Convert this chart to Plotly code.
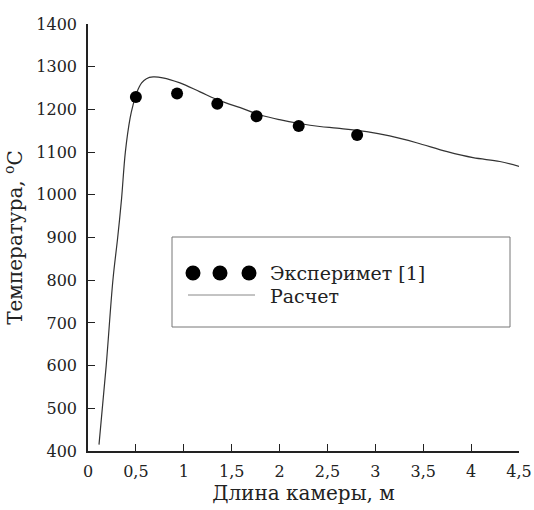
import plotly.graph_objects as go

# Experimental data
exp_x = [0.5, 0.93, 1.35, 1.76, 2.2, 2.81]
exp_y = [1229, 1237, 1213, 1184, 1161, 1140]

# Calculated curve
calc_x = [0.115, 0.19, 0.26, 0.31, 0.35, 0.39, 0.44, 0.47, 0.51, 0.56, 0.61, 0.68, 0.78,
          0.96, 1.17, 1.38, 1.59, 1.8, 2.0, 2.21, 2.42, 2.6, 2.91, 3.15, 3.43, 3.75,
          4.02, 4.3, 4.51]
calc_y = [415, 600, 800, 900, 990, 1100, 1180, 1210, 1240, 1262, 1272, 1276, 1274,
          1262, 1241, 1220, 1204, 1187, 1176, 1167, 1160, 1156, 1148, 1138, 1122, 1101,
          1087, 1078, 1066]

x_ticks = [0, 0.5, 1, 1.5, 2, 2.5, 3, 3.5, 4, 4.5]
x_ticktext = ["0", "0,5", "1", "1,5", "2", "2,5", "3", "3,5", "4", "4,5"]
y_ticks = [400, 500, 600, 700, 800, 900, 1000, 1100, 1200, 1300, 1400]

legend_labels = ["Эксперимет [1]", "Расчет"]

FONT = "DejaVu Serif"

fig = go.Figure()
fig.add_trace(go.Scatter(x=calc_x, y=calc_y, mode="lines",
                         line=dict(color="#333333", width=1.2, shape="spline"),
                         showlegend=False))
fig.add_trace(go.Scatter(x=exp_x, y=exp_y, mode="markers",
                         marker=dict(color="black", size=12),
                         showlegend=False))

W, H = 431, 427
def px(x):
    return (x - 88) / W
def py(y):
    return (451 - y) / H

shapes = [
    dict(type="rect", xref="paper", yref="paper",
         x0=px(172), x1=px(510), y0=py(327), y1=py(237),
         line=dict(color="#777777", width=1), fillcolor="white", layer="below"),
    dict(type="line", xref="paper", yref="paper",
         x0=px(188), x1=px(255), y0=py(295), y1=py(295),
         line=dict(color="#888888", width=1)),
]
for cx in [193, 220, 249]:
    shapes.append(dict(type="circle", xref="paper", yref="paper",
                       xsizemode="pixel", ysizemode="pixel",
                       xanchor=px(cx), yanchor=py(273),
                       x0=-7.5, x1=7.5, y0=-7.5, y1=7.5,
                       fillcolor="black", line=dict(color="black", width=0)))

annotations = [
    dict(xref="paper", yref="paper", x=px(268), y=py(273), text=legend_labels[0],
         showarrow=False, xanchor="left", yanchor="middle",
         font=dict(family=FONT, size=19, color="#222")),
    dict(xref="paper", yref="paper", x=px(268), y=py(296), text=legend_labels[1],
         showarrow=False, xanchor="left", yanchor="middle",
         font=dict(family=FONT, size=19, color="#222")),
]

fig.update_layout(
    width=534, height=510,
    margin=dict(l=88, r=15, t=24, b=59),
    paper_bgcolor="white", plot_bgcolor="white",
    font=dict(family=FONT, size=16, color="#222"),
    shapes=shapes, annotations=annotations,
    showlegend=False,
)
fig.update_xaxes(range=[0, 4.5], tickvals=x_ticks, ticktext=x_ticktext,
                 ticks="inside", ticklen=7, tickcolor="#222", tickwidth=1.2,
                 showline=True, linecolor="#222", linewidth=1.5,
                 showgrid=False, zeroline=False, ticklabelstandoff=5, automargin=False,
                 title=dict(text="Длина камеры, м", font=dict(size=20), standoff=3))
fig.update_yaxes(range=[400, 1400], tickvals=y_ticks,
                 ticks="inside", ticklen=7, tickcolor="#222", tickwidth=1.2,
                 showline=True, linecolor="#222", linewidth=1.5,
                 showgrid=False, zeroline=False, ticklabelstandoff=6, automargin=False,
                 title=dict(text="Температура, <sup>o</sup>C", font=dict(size=20), standoff=8))

fig.write_html("out.html")
